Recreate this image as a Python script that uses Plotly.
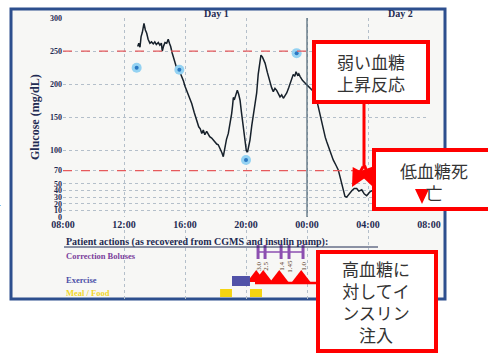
import plotly.graph_objects as go

W, H = 488, 354

# CGMS glucose trace (hours since 00:00 of day 1; >24 = day 2), mg/dL
cgm_time = [12.90, 12.97, 13.05, 13.12, 13.20, 13.31, 13.40, 13.49, 13.58, 13.70,
            13.80, 13.92, 14.02, 14.12, 14.25, 14.35, 14.45, 14.51, 14.60, 14.69,
            14.80, 14.90, 14.98, 15.06, 15.15, 15.23, 15.35, 15.46, 15.55, 15.67,
            15.80, 15.90, 16.00, 16.15, 16.30, 16.44, 16.60, 16.77, 16.90, 17.00,
            17.10, 17.20, 17.30, 17.42, 17.52, 17.62, 17.75, 17.85, 17.95, 18.08,
            18.18, 18.30, 18.42, 18.51, 18.60, 18.72, 18.84, 18.95, 19.06, 19.12,
            19.17, 19.25, 19.35, 19.43, 19.52, 19.61, 19.70, 19.82, 19.92, 20.02,
            20.10, 20.20, 20.26, 20.38, 20.48, 20.60, 20.70, 20.80, 20.90, 20.98,
            21.08, 21.18, 21.25, 21.40, 21.57, 21.68, 21.79, 21.90, 22.01, 22.12,
            22.23, 22.34, 22.45, 22.56, 22.67, 22.80, 22.90, 23.00, 23.10, 23.20,
            23.28, 23.38, 23.46, 23.54, 23.70, 23.87, 24.00, 24.10, 24.20, 24.35,
            24.52, 24.62, 24.74, 24.90, 25.07, 25.20, 25.30, 25.40, 25.55, 25.72,
            25.90, 26.05, 26.15, 26.28, 26.38, 26.49, 26.60, 26.70, 26.82, 26.95,
            27.10, 27.26, 27.40, 27.59, 27.75, 27.91, 28.02, 28.13, 28.30, 28.50]
cgm_value = [257, 262, 256, 272, 278, 292, 282, 277, 268, 262,
             264, 261, 264, 260, 263, 259, 262, 250, 258, 263,
             262, 268, 262, 257, 248, 242, 232, 224, 225, 219,
             210, 205, 197, 188, 180, 171, 158, 146, 136, 133,
             126, 131, 124, 129, 124, 121, 119, 116, 113, 110,
             109, 104, 97, 91, 104, 117, 126, 140, 156, 168,
             180, 178, 186, 191, 185, 176, 158, 136, 115, 100,
             98, 108, 116, 138, 156, 172, 187, 215, 236, 244,
             241, 236, 232, 218, 202, 195, 189, 194, 191, 185,
             181, 184, 179, 183, 187, 195, 202, 207, 215, 212,
             219, 214, 216, 212, 206, 202, 199, 197, 194, 190,
             187, 178, 166, 148, 131, 120, 113, 106, 97, 86,
             78, 71, 62, 51, 40, 31, 30, 33, 35, 40,
             43, 43, 39, 41, 35, 32, 35, 38, 40, 43]

# finger-stick meter readings
smbg_time = [12.83, 15.63, 20.00, 23.32]
smbg_value = [225, 222, 86, 247]

# thresholds
hyper_limit = 250
hypo_limit = 70

# axis ticks
x_ticks = [8, 12, 16, 20, 24, 28, 32]
x_labels = ["08:00", "12:00", "16:00", "20:00", "00:00", "04:00", "08:00"]
y_ticks = [0, 10, 20, 30, 40, 50, 70, 100, 150, 200, 250, 300]

# patient actions
bolus_time = [20.79, 21.25, 22.30, 22.82, 23.74]
bolus_units = ["3.0", "2.5", "1.4", "1.45", "1.0"]
exercise_start = [19.08]
exercise_end = [20.26]
meal_start = [18.30, 20.26]
meal_end = [19.08, 21.05]
arrowed_bolus = [0, 1, 2, 4]


def px(x):
    return x / W


def py(y):
    return 1 - y / H


NAVY = "#1f2b52"
SERIF = "Liberation Serif"
JP = "Noto Sans CJK JP"
RED = "#ff0000"
GRID = "#b4bfca"

fig = go.Figure()

fig.add_trace(go.Scatter(x=cgm_time, y=cgm_value, mode="lines",
                         line=dict(color="#17212b", width=1.5),
                         hoverinfo="skip"))
fig.add_trace(go.Scatter(x=smbg_time, y=smbg_value, mode="markers",
                         marker=dict(size=10, color="#94d2f2"), hoverinfo="skip"))
fig.add_trace(go.Scatter(x=smbg_time, y=smbg_value, mode="markers",
                         marker=dict(size=4, color="#2a78c2"), hoverinfo="skip"))

# correction boluses
fig.add_trace(go.Scatter(x=bolus_time, y=[252] * len(bolus_time), yaxis="y2",
                         mode="lines+markers",
                         line=dict(color="#8c4fb0", width=1.5),
                         marker=dict(symbol="line-ns", size=10,
                                     line=dict(color="#8c4fb0", width=3)),
                         hoverinfo="skip"))
# red pointer triangles under the boluses
fig.add_trace(go.Scatter(x=[bolus_time[i] - 0.12 for i in arrowed_bolus],
                         y=[278] * len(arrowed_bolus), yaxis="y2",
                         mode="markers",
                         marker=dict(symbol="triangle-up", size=16, color=RED),
                         hoverinfo="skip"))

shapes = []
# outer panel frame
shapes.append(dict(type="rect", xref="paper", yref="paper",
                   x0=px(11), x1=px(445), y0=py(299), y1=py(9),
                   line=dict(color="#2d4f8e", width=3), fillcolor="#f7f7f5",
                   layer="below"))
# thresholds
for lvl in (hyper_limit, hypo_limit):
    shapes.append(dict(type="line", xref="x", yref="y", x0=8, x1=32, y0=lvl, y1=lvl,
                       line=dict(color="#e65a5c", width=1.2, dash="dash")))
# midnight divider
shapes.append(dict(type="line", xref="x", yref="y", x0=24, x1=24, y0=0, y1=300,
                   line=dict(color="#4b6373", width=1.2)))
# exercise / meals
for a, b in zip(exercise_start, exercise_end):
    shapes.append(dict(type="rect", xref="x", yref="y2", x0=a, x1=b, y0=276, y1=286,
                       line=dict(width=0), fillcolor="#5152a8"))
for a, b in zip(meal_start, meal_end):
    shapes.append(dict(type="rect", xref="x", yref="y2", x0=a, x1=b, y0=289, y1=297,
                       line=dict(width=0), fillcolor="#f4d411"))
# underline of section heading
shapes.append(dict(type="line", xref="paper", yref="paper",
                   x0=px(64), x1=px(378), y0=py(247), y1=py(247),
                   line=dict(color=NAVY, width=1)))

# callout boxes
def box(x0, y0, x1, y1):
    return dict(type="rect", xref="paper", yref="paper",
                x0=px(x0), x1=px(x1), y0=py(y1), y1=py(y0),
                line=dict(color=RED, width=4), fillcolor="white", layer="above")


shapes.append(dict(type="line", xref="paper", yref="paper",
                   x0=px(364), x1=px(364), y0=py(102), y1=py(168),
                   line=dict(color=RED, width=3), layer="above"))
shapes.append(dict(type="line", xref="paper", yref="paper",
                   x0=px(255), x1=px(318), y0=py(283), y1=py(283),
                   line=dict(color=RED, width=2.5), layer="above"))
shapes.append(box(314, 42, 428, 102))
shapes.append(box(374, 150, 500, 209))
shapes.append(box(318, 252, 436, 351))
shapes.append(dict(type="path", xref="paper", yref="paper",
                   path=f"M {px(415)} {py(189)} L {px(429)} {py(189)} L {px(422)} {py(204)} Z",
                   fillcolor=RED, line=dict(width=0), layer="above"))

annotations = []


def text(x, y, s, size, color, family=SERIF, bold=True, xanchor="center", angle=0):
    annotations.append(dict(xref="paper", yref="paper", x=px(x), y=py(y), text=s,
                            showarrow=False, xanchor=xanchor, yanchor="middle",
                            textangle=angle,
                            font=dict(family=family, size=size, color=color,
                                      weight="bold" if bold else "normal")))


text(216, 13, "Day 1", 10, NAVY)
text(400, 13, "Day 2", 10, NAVY)
text(35, 117, "Glucose (mg/dL)", 12, NAVY, angle=-90)
text(64, 242, "Patient actions (as recovered from CGMS and insulin pump):", 10, NAVY,
     xanchor="left")
text(64, 256, "Correction Boluses", 8.5, "#7b3f9c", xanchor="left")
text(64, 280, "Exercise", 8.5, "#4b4fa8", xanchor="left")
text(64, 293, "Meal / Food", 8.5, "#f0d62a", xanchor="left")

for t, u in zip(bolus_time, bolus_units):
    annotations.append(dict(xref="x", yref="y2", x=t + 0.05, y=266, text=u,
                            showarrow=False, textangle=-90,
                            font=dict(family=SERIF, size=7, color="#5a3d28")))

# callout texts
text(371, 72, "弱い血糖<br>上昇反応", 17, "#333333", family=JP, bold=False)
text(434, 181, "低血糖死<br>亡", 17, "#333333", family=JP, bold=False)
text(376, 301, "高血糖に<br>対してイ<br>ンスリン<br>注入", 17, "#333333", family=JP, bold=False)
text(-7, 208, "言", 15, "#333333", family=JP, bold=False)

# arrow heads pointing at the weak rebound
for tx, ty, ax, ay in [(352, 187, 12, -22), (372, 186, -8, -22)]:
    annotations.append(dict(xref="paper", yref="paper", x=px(tx), y=py(ty),
                            ax=ax, ay=ay, text="", showarrow=True,
                            arrowhead=2, arrowsize=1.2, arrowwidth=3,
                            arrowcolor=RED))

fig.update_layout(
    width=W, height=H, autosize=False,
    margin=dict(l=0, r=0, t=0, b=0),
    paper_bgcolor="white", plot_bgcolor="#f7f7f5",
    showlegend=False,
    shapes=shapes, annotations=annotations,
    xaxis=dict(domain=[px(63), px(429)], range=[8, 32], tickvals=x_ticks,
               ticktext=x_labels, showgrid=True, gridcolor=GRID,
               griddash="dot", gridwidth=1, zeroline=False, showline=False,
               automargin=False, ticks="",
               tickfont=dict(family=SERIF, size=10, color=NAVY, weight="bold")),
    yaxis=dict(domain=[py(217), py(18)], range=[0, 300], tickvals=y_ticks,
               showgrid=True, gridcolor=GRID, griddash="dot", gridwidth=1,
               zeroline=False, showline=False, automargin=False, ticks="",
               tickfont=dict(family=SERIF, size=8, color=NAVY, weight="bold")),
    yaxis2=dict(domain=[py(300), py(230)], range=[300, 230], anchor="x",
                automargin=False, visible=False),
)

fig.write_html("out.html")
